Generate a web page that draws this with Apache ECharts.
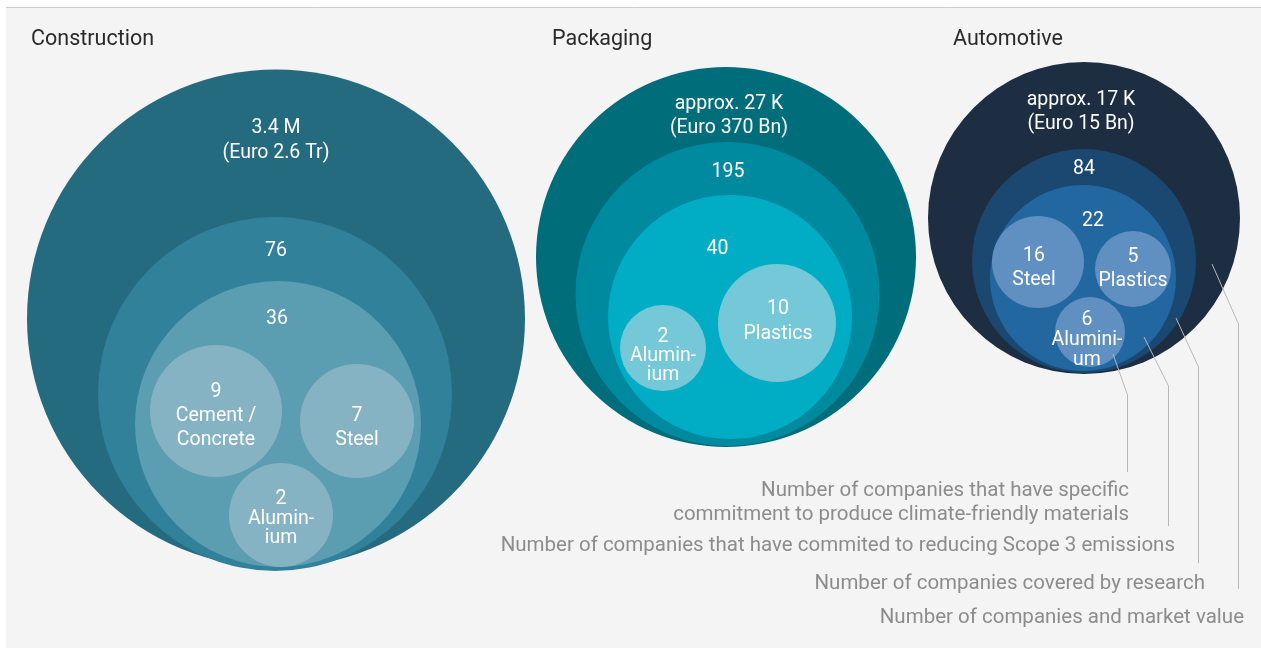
<!DOCTYPE html>
<html>
<head>
<meta charset="utf-8">
<script src="https://cdn.jsdelivr.net/npm/echarts@6/dist/echarts.min.js"></script>
<style>
html,body{margin:0;padding:0;background:#fff;}
#chart{width:1261px;height:648px;}
</style>
</head>
<body>
<div id="chart"></div>
<script>
// ---- data ----
const sectors = ['Construction', 'Packaging', 'Automotive'];
const levelNames = ['Number of companies and market value',
  'Number of companies covered by research',
  'Number of companies that have commited to reducing Scope 3 emissions',
  'Number of companies that have specific\ncommitment to produce climate-friendly materials'];

const constructionCounts = ['3.4 M', '76', '36', '9', '7', '2'];
const constructionNotes  = ['(Euro 2.6 Tr)', '', '', 'Cement /\nConcrete', 'Steel', 'Alumin-\nium'];

const packagingCounts = ['approx. 27 K', '195', '40', '10', '2'];
const packagingNotes  = ['(Euro 370 Bn)', '', '', 'Plastics', 'Alumin-\nium'];

const automotiveCounts = ['approx. 17 K', '84', '22', '16', '5', '6'];
const automotiveNotes  = ['(Euro 15 Bn)', '', '', 'Steel', 'Plastics', 'Alumini-\num'];

// ---- layout (circle centre x, centre y, radius, label x, label y, line height) ----
const constructionLayout = [
  [276, 318.5, 249, 276, 141, 25],
  [275, 394, 177, 276, 251, 24],
  [278, 424, 143, 277, 319, 24],
  [216, 411, 66, 216, 416, 24],
  [357, 421, 57, 357, 428, 24],
  [281, 515, 52, 281, 519, 19.5]
];
const packagingLayout = [
  [726, 257, 190, 729, 116, 24],
  [727.5, 294, 152, 728, 172, 24],
  [730, 317, 122, 717.5, 249, 24],
  [777, 323, 59, 778, 322, 25],
  [663, 348, 43, 663, 356, 19]
];
const automotiveLayout = [
  [1084, 218, 156, 1081, 112, 24],
  [1084, 261, 112, 1084, 169, 24],
  [1083, 278, 93, 1093, 221, 24],
  [1038, 262, 46, 1034, 268, 24],
  [1133, 269, 38, 1133, 269, 24],
  [1090, 332, 35, 1087, 340, 20]
];
const constructionColors = ['#256b80', '#32819a', '#5b9db1', '#85b3c3', '#85b3c3', '#85b3c3'];
const packagingColors    = ['#006e7a', '#008aa0', '#00adc5', '#74c8d8', '#74c8d8'];
const automotiveColors   = ['#1d2d42', '#1a4870', '#2367a0', '#6090c2', '#6090c2', '#6090c2'];

const FONT = 'Roboto, "Open Sans", sans-serif';

function buildData(counts, notes, layout, colors) {
  return counts.map((c, i) => ({
    value: layout[i],
    name: c,
    note: notes[i],
    color: colors[i]
  }));
}
const allData = [].concat(
  buildData(constructionCounts, constructionNotes, constructionLayout, constructionColors),
  buildData(packagingCounts, packagingNotes, packagingLayout, packagingColors),
  buildData(automotiveCounts, automotiveNotes, automotiveLayout, automotiveColors)
);

function renderItem(params, api) {
  const d = allData[params.dataIndex];
  const c = api.coord([api.value(0), api.value(1)]);
  const r = api.size([api.value(2), api.value(2)])[0];
  const l = api.coord([api.value(3), api.value(4)]);
  const txt = d.note ? d.name + '\n' + d.note : d.name;
  return {
    type: 'group',
    children: [
      { type: 'circle', shape: { cx: c[0], cy: c[1], r: r }, style: { fill: d.color } },
      { type: 'text', x: l[0], y: l[1],
        style: { text: txt, fill: '#ffffff', fontSize: 19.5, fontFamily: FONT,
                 align: 'center', verticalAlign: 'middle', lineHeight: api.value(5) } }
    ]
  };
}

// annotation texts (right aligned) and leader lines
const annotTexts = [
  { text: levelNames[3], right: 1129, y: 503, lh: 24 },
  { text: levelNames[2], right: 1175, y: 546, lh: 24 },
  { text: levelNames[1], right: 1205, y: 584, lh: 24 },
  { text: levelNames[0], right: 1244, y: 618, lh: 24 }
];
const leaderLines = [
  [[1113, 354], [1127.5, 395], [1127.5, 472]],
  [[1144, 337], [1168.5, 386], [1168.5, 526]],
  [[1176, 318], [1198.5, 367], [1198.5, 563]],
  [[1212, 264], [1238.5, 324], [1238.5, 589]]
];

const graphics = [
  { type: 'rect', z: -10, shape: { x: 6, y: 8, width: 1261, height: 648 }, style: { fill: '#f4f4f4' } },
  { type: 'line', z: -9, shape: { x1: 6, y1: 7.5, x2: 1261, y2: 7.5 }, style: { stroke: '#cccccc', lineWidth: 1 } }
];
annotTexts.forEach(a => graphics.push({
  type: 'text', x: a.right, y: a.y, z: 10,
  style: { text: a.text, fill: '#8c8c8c', fontSize: 20.5, fontFamily: FONT,
           align: 'right', verticalAlign: 'middle', lineHeight: a.lh }
}));
leaderLines.forEach(p => graphics.push({
  type: 'polyline', z: 10, shape: { points: p },
  style: { stroke: '#b8b8b8', lineWidth: 1, fill: null }
}));

const chart = echarts.init(document.getElementById('chart'), null, { renderer: 'canvas' });
chart.setOption({
  backgroundColor: '#ffffff',
  animation: false,
  title: [
    { text: sectors[0], left: 31, top: 29 },
    { text: sectors[1], left: 552, top: 29 },
    { text: sectors[2], left: 953, top: 29 }
  ].map(t => Object.assign(t, { padding: 0, textStyle: { fontSize: 21.5, fontWeight: 'normal', color: '#2a2a2a', fontFamily: FONT } })),
  grid: { left: 0, right: 0, top: 0, bottom: 0 },
  xAxis: { type: 'value', min: 0, max: 1261, show: false },
  yAxis: { type: 'value', min: 0, max: 648, inverse: true, show: false },
  graphic: graphics,
  series: [{
    type: 'custom',
    renderItem: renderItem,
    data: allData.map(d => d.value),
    silent: true
  }]
});
</script>
</body>
</html>
